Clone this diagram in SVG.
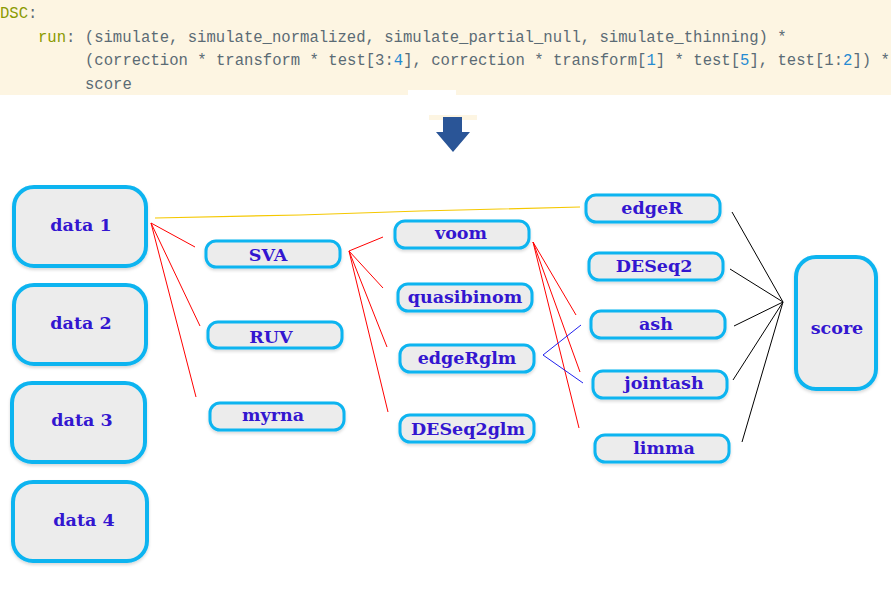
<svg xmlns="http://www.w3.org/2000/svg" width="891" height="600" viewBox="0 0 891 600">
<defs>
<style>
.code{font-family:"Liberation Mono","DejaVu Sans Mono",monospace;font-size:15.6px;fill:#5b6b75;}
.kw{fill:#8a9a00;}
.num{fill:#268bd2;}
.big{fill:#ececec;stroke:#0db4f0;stroke-width:4;}
.sm{fill:#ececec;stroke:#0db4f0;stroke-width:3;}
.lbl{font-family:"DejaVu Serif",serif;font-weight:bold;font-size:17.5px;fill:#3316d0;text-anchor:middle;}
.red{stroke:#ff0000;stroke-width:1;fill:none;}
.blue{stroke:#2222ee;stroke-width:1;fill:none;}
.blk{stroke:#000000;stroke-width:1;fill:none;}
.yel{stroke:#f5c800;stroke-width:1.2;fill:none;}
</style>
<filter id="sh" x="-10%" y="-10%" width="120%" height="130%">
<feDropShadow dx="0" dy="2" stdDeviation="1.5" flood-color="#000" flood-opacity="0.15"/>
</filter>
</defs>
<rect width="891" height="600" fill="#ffffff"/>
<g id="header">
<rect x="0" y="0" width="891" height="90" fill="#fdf5e2"/>
<rect x="0" y="90" width="408" height="5" fill="#fdf5e2"/>
<rect x="456" y="90" width="435" height="5" fill="#fdf5e2"/>
<rect x="429" y="115" width="48" height="5" fill="#fdf5e2"/>
<text class="code" x="0" y="18" xml:space="preserve"><tspan class="kw">DSC</tspan>:</text>
<text class="code" x="38" y="42" xml:space="preserve"><tspan class="kw">run</tspan>: (simulate, simulate_normalized, simulate_partial_null, simulate_thinning) *</text>
<text class="code" x="85" y="65" xml:space="preserve">(correction * transform * test[3:<tspan class="num">4</tspan>], correction * transform[<tspan class="num">1</tspan>] * test[<tspan class="num">5</tspan>], test[1:<tspan class="num">2</tspan>]) *</text>
<text class="code" x="85" y="89">score</text>
</g>
<g id="arrow">
<polygon points="443,117 462,117 462,132 470,132 453,152 436,132 443,132" fill="#2a5597"/>
</g>
<g id="connectors">
<polyline class="yel" points="155,218 300,215 420,211 580,207"/>
<line class="red" x1="151" y1="223" x2="195" y2="247"/>
<line class="red" x1="151" y1="223" x2="200" y2="326"/>
<line class="red" x1="151" y1="223" x2="196" y2="397"/>
<line class="red" x1="349" y1="251" x2="383" y2="237"/>
<line class="red" x1="349" y1="251" x2="383" y2="288"/>
<line class="red" x1="349" y1="251" x2="387" y2="347"/>
<line class="red" x1="349" y1="251" x2="388" y2="412"/>
<line class="red" x1="533" y1="242" x2="576" y2="315"/>
<line class="red" x1="533" y1="242" x2="580" y2="372"/>
<line class="red" x1="533" y1="242" x2="579" y2="428"/>
<line class="blue" x1="543" y1="355" x2="581" y2="325"/>
<line class="blue" x1="543" y1="355" x2="583" y2="383"/>
<line class="blk" x1="732" y1="212" x2="783" y2="302"/>
<line class="blk" x1="730" y1="269" x2="783" y2="302"/>
<line class="blk" x1="734" y1="326" x2="783" y2="302"/>
<line class="blk" x1="733" y1="380" x2="783" y2="302"/>
<line class="blk" x1="742" y1="442" x2="783" y2="302"/>
</g>
<g id="data1"><rect class="big" filter="url(#sh)" x="14" y="187" width="132" height="79" rx="20"/><text class="lbl" x="81" y="231">data 1</text></g>
<g id="data2"><rect class="big" filter="url(#sh)" x="14" y="285" width="132" height="79" rx="20"/><text class="lbl" x="81" y="329">data 2</text></g>
<g id="data3"><rect class="big" filter="url(#sh)" x="12" y="383" width="133" height="79" rx="20"/><text class="lbl" x="82" y="426">data 3</text></g>
<g id="data4"><rect class="big" filter="url(#sh)" x="13" y="482" width="134" height="79" rx="20"/><text class="lbl" x="84" y="526">data 4</text></g>
<g id="SVA"><rect class="sm" filter="url(#sh)" x="206" y="241" width="134" height="26" rx="10"/><text class="lbl" x="268" y="261">SVA</text></g>
<g id="RUV"><rect class="sm" filter="url(#sh)" x="208" y="322" width="134" height="26" rx="10"/><text class="lbl" x="271" y="343">RUV</text></g>
<g id="myrna"><rect class="sm" filter="url(#sh)" x="210" y="403" width="134" height="27" rx="10"/><text class="lbl" x="273" y="421">myrna</text></g>
<g id="voom"><rect class="sm" filter="url(#sh)" x="395" y="221" width="134" height="27" rx="10"/><text class="lbl" x="461" y="239">voom</text></g>
<g id="quasibinom"><rect class="sm" filter="url(#sh)" x="398" y="284" width="134" height="27" rx="10"/><text class="lbl" x="465" y="303">quasibinom</text></g>
<g id="edgeRglm"><rect class="sm" filter="url(#sh)" x="400" y="345" width="134" height="27" rx="10"/><text class="lbl" x="467" y="364">edgeRglm</text></g>
<g id="DESeq2glm"><rect class="sm" filter="url(#sh)" x="400" y="415" width="134" height="27" rx="10"/><text class="lbl" x="468" y="435">DESeq2glm</text></g>
<g id="edgeR"><rect class="sm" filter="url(#sh)" x="586" y="195" width="134" height="27" rx="10"/><text class="lbl" x="652" y="214">edgeR</text></g>
<g id="DESeq2"><rect class="sm" filter="url(#sh)" x="589" y="253" width="134" height="27" rx="10"/><text class="lbl" x="654" y="272">DESeq2</text></g>
<g id="ash"><rect class="sm" filter="url(#sh)" x="591" y="311" width="134" height="27" rx="10"/><text class="lbl" x="656" y="330">ash</text></g>
<g id="jointash"><rect class="sm" filter="url(#sh)" x="593" y="371" width="134" height="27" rx="10"/><text class="lbl" x="664" y="389">jointash</text></g>
<g id="limma"><rect class="sm" filter="url(#sh)" x="595" y="435" width="134" height="27" rx="10"/><text class="lbl" x="664" y="454">limma</text></g>
<g id="score"><rect class="big" filter="url(#sh)" x="796" y="257" width="80" height="132" rx="20"/><text class="lbl" x="837" y="334">score</text></g>
</svg>
